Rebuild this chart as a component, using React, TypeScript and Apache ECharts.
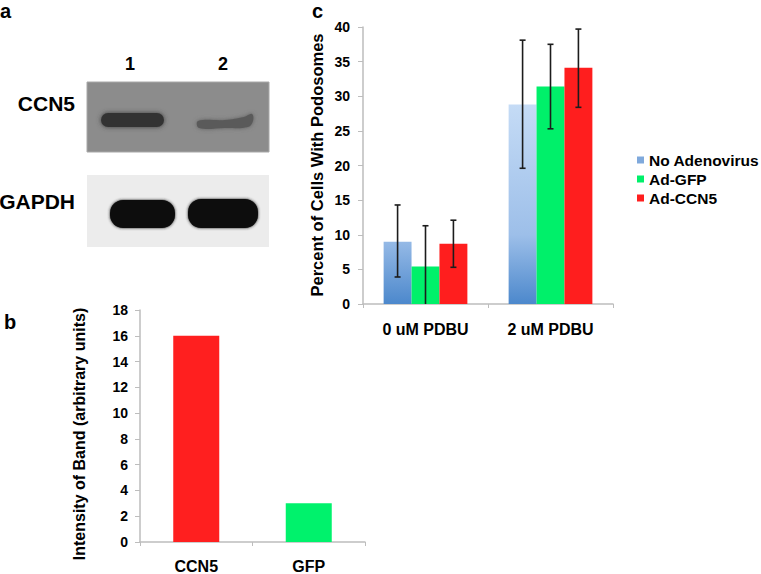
import React, { useEffect, useRef } from "react";
import * as echarts from "echarts";

// Panel b data
const bCategories = ["CCN5", "GFP"];
const bValues = [16, 3];
const bColors = ["#ff1f1f", "#00f26c"];
const bTicks = { min: 0, max: 18, interval: 2 };

// Panel c data
const cCategories = ["0 uM PDBU", "2 uM PDBU"];
const cSeriesNames = ["No Adenovirus", "Ad-GFP", "Ad-CCN5"];
const cNoAdeno = [9.0, 28.8];
const cAdGFP = [5.4, 31.4];
const cAdCCN5 = [8.7, 34.1];
const cNoAdenoLow = [3.9, 19.6];
const cNoAdenoHigh = [14.3, 38.1];
const cAdGFPLow = [-0.5, 25.3];
const cAdGFPHigh = [11.3, 37.5];
const cAdCCN5Low = [5.3, 28.4];
const cAdCCN5High = [12.1, 39.7];
const cTicks = { min: 0, max: 40, interval: 5 };

// Panel a labels
const laneLabels = ["1", "2"];
const blotLabels = ["CCN5", "GAPDH"];

const FONT = 'Arial, "Liberation Sans", Helvetica, sans-serif';

export default function App() {
  const ref = useRef<HTMLDivElement>(null);
  useEffect(() => {
    if (!ref.current) return;
    const chart = echarts.init(ref.current, null, { renderer: "svg" });

    const blueGrad = new echarts.graphic.LinearGradient(
      0, 27, 0, 304,
      [
        { offset: 0, color: "#e2eefb" },
        { offset: 0.3, color: "#c3daf5" },
        { offset: 0.75, color: "#9dbfe9" },
        { offset: 1, color: "#4c88cc" },
      ],
      true
    );
    const cColors = [blueGrad, "#00f06a", "#ff1e1e"];
    const cLegendColors = ["#7fa9dc", "#00f06a", "#ff1e1e"];
    const cVals = [cNoAdeno, cAdGFP, cAdCCN5];
    const cLows = [cNoAdenoLow, cAdGFPLow, cAdCCN5Low];
    const cHighs = [cNoAdenoHigh, cAdGFPHigh, cAdCCN5High];

    const axisColor = "#bdbdbd";
    const labelStyle = { color: "#000", fontWeight: "bold" as const, fontFamily: FONT };

    const errSeries = cSeriesNames.map((name, k) => ({
      type: "custom" as const,
      name: name + " error",
      xAxisIndex: 1,
      yAxisIndex: 1,
      z: 5,
      silent: true,
      data: cCategories.map((_, i) => [i, cLows[k][i], cHighs[k][i]]),
      encode: { x: 0, y: [1, 2] },
      renderItem: (params: any, api: any) => {
        const cat = api.value(0);
        const lo = api.value(1);
        const hi = api.value(2);
        const band = api.size([1, 0])[0];
        const bw = (band * 0.67) / 3;
        const cx = api.coord([cat, 0])[0] + (k - 1) * bw;
        const yHi = api.coord([cat, hi])[1];
        const yLo = api.coord([cat, Math.max(lo, 0)])[1];
        const st = { stroke: "#1c1c1c", lineWidth: 1.6 };
        const children: any[] = [
          { type: "line", shape: { x1: cx, y1: yHi, x2: cx, y2: yLo }, style: st },
          { type: "line", shape: { x1: cx - 3, y1: yHi, x2: cx + 3, y2: yHi }, style: st },
        ];
        if (lo > 0) {
          children.push({ type: "line", shape: { x1: cx - 3, y1: yLo, x2: cx + 3, y2: yLo }, style: st });
        }
        return { type: "group", children };
      },
    }));

    const barSeriesC = cSeriesNames.map((name, k) => ({
      type: "bar" as const,
      name,
      xAxisIndex: 1,
      yAxisIndex: 1,
      barGap: "0%",
      barCategoryGap: "33%",
      itemStyle: { color: cColors[k] },
      data: cVals[k],
    }));

    const option: any = {
      animation: false,
      backgroundColor: "#fff",
      textStyle: { fontFamily: FONT },
      grid: [
        { left: 140, right: 396, top: 310, bottom: 31 },
        { left: 363, right: 148, top: 27, bottom: 270 },
      ],
      xAxis: [
        {
          type: "category",
          gridIndex: 0,
          data: bCategories,
          axisLine: { lineStyle: { color: axisColor, width: 1.5 } },
          axisTick: { show: true, length: 4, lineStyle: { color: axisColor } },
          axisLabel: { ...labelStyle, fontSize: 16, margin: 16 },
        },
        {
          type: "category",
          gridIndex: 1,
          data: cCategories,
          axisLine: { lineStyle: { color: axisColor, width: 1.5 } },
          axisTick: { show: true, length: 4, lineStyle: { color: axisColor } },
          axisLabel: { ...labelStyle, fontSize: 16, margin: 17 },
        },
      ],
      yAxis: [
        {
          type: "value",
          gridIndex: 0,
          min: bTicks.min,
          max: bTicks.max,
          interval: bTicks.interval,
          splitLine: { show: false },
          axisLine: { show: true, lineStyle: { color: axisColor, width: 1.5 } },
          axisTick: { show: true, length: 5, lineStyle: { color: axisColor } },
          axisLabel: { ...labelStyle, fontSize: 14, margin: 12 },
        },
        {
          type: "value",
          gridIndex: 1,
          min: cTicks.min,
          max: cTicks.max,
          interval: cTicks.interval,
          splitLine: { show: false },
          axisLine: { show: true, lineStyle: { color: axisColor, width: 1.5 } },
          axisTick: { show: true, length: 5, lineStyle: { color: axisColor } },
          axisLabel: { ...labelStyle, fontSize: 14, margin: 13 },
        },
      ],
      legend: {
        orient: "vertical",
        left: 632,
        top: 146,
        itemWidth: 7,
        itemHeight: 7,
        itemGap: 1,
        icon: "rect",
        textStyle: { ...labelStyle, fontSize: 15.5, lineHeight: 18 },
        data: cSeriesNames.map((n, k) => ({ name: n, itemStyle: { color: cLegendColors[k] } })),
      },
      series: [
        {
          type: "bar",
          name: "b",
          xAxisIndex: 0,
          yAxisIndex: 0,
          barWidth: 46,
          data: bValues.map((v, i) => ({ value: v, itemStyle: { color: bColors[i] } })),
        },
        ...barSeriesC,
        ...errSeries,
      ],
      graphic: [
        // panel letters
        { type: "text", x: 0, y: 11, style: { text: "a", font: `bold 20px ${FONT}`, fill: "#000", textVerticalAlign: "middle" } },
        { type: "text", x: 4, y: 322, style: { text: "b", font: `bold 20px ${FONT}`, fill: "#000", textVerticalAlign: "middle" } },
        { type: "text", x: 312, y: 11, style: { text: "c", font: `bold 20px ${FONT}`, fill: "#000", textVerticalAlign: "middle" } },
        // lane labels
        { type: "text", x: 130, y: 64, style: { text: laneLabels[0], font: `bold 18px ${FONT}`, fill: "#000", textAlign: "center", textVerticalAlign: "middle" } },
        { type: "text", x: 223, y: 64, style: { text: laneLabels[1], font: `bold 18px ${FONT}`, fill: "#000", textAlign: "center", textVerticalAlign: "middle" } },
        // blot labels
        { type: "text", x: 75, y: 103, style: { text: blotLabels[0], font: `bold 21px ${FONT}`, fill: "#000", textAlign: "right", textVerticalAlign: "middle" } },
        { type: "text", x: 75, y: 201, style: { text: blotLabels[1], font: `bold 21px ${FONT}`, fill: "#000", textAlign: "right", textVerticalAlign: "middle" } },
        // CCN5 blot
        { type: "rect", shape: { x: 87, y: 82, width: 182, height: 70 }, style: { fill: "#8c8c8c", stroke: "#a8a8a8", lineWidth: 1 } },
        { type: "rect", shape: { x: 101, y: 113, width: 63, height: 14, r: 7 }, style: { fill: "#333333", shadowBlur: 5, shadowColor: "#3a3a3a" } },
        {
          type: "polygon",
          shape: { points: [[198, 121], [225, 120], [244, 117], [252, 114], [253, 121], [248, 127], [225, 128], [199, 128]], smooth: 0.4 },
          style: { fill: "#5a5a5a", shadowBlur: 4, shadowColor: "#606060" },
        },
        // GAPDH blot
        { type: "rect", shape: { x: 87, y: 175, width: 182, height: 72 }, style: { fill: "#ececec" } },
        { type: "rect", shape: { x: 110, y: 200, width: 65, height: 28, r: 13 }, style: { fill: "#080808", shadowBlur: 3, shadowColor: "#202020" } },
        { type: "rect", shape: { x: 188, y: 199, width: 70, height: 29, r: 13 }, style: { fill: "#080808", shadowBlur: 3, shadowColor: "#202020" } },
        // axis titles
        {
          type: "text", x: 79, y: 434, rotation: Math.PI / 2,
          style: { text: "Intensity of Band (arbitrary units)", font: `bold 16px ${FONT}`, fill: "#000", textAlign: "center", textVerticalAlign: "middle" },
        },
        {
          type: "text", x: 317, y: 165, rotation: Math.PI / 2,
          style: { text: "Percent of Cells With Podosomes", font: `bold 16.5px ${FONT}`, fill: "#000", textAlign: "center", textVerticalAlign: "middle" },
        },
      ],
    };
    chart.setOption(option);
    return () => chart.dispose();
  }, []);
  return <div ref={ref} style={{ position: "absolute", left: 0, top: 0, width: 761, height: 574 }} />;
}
